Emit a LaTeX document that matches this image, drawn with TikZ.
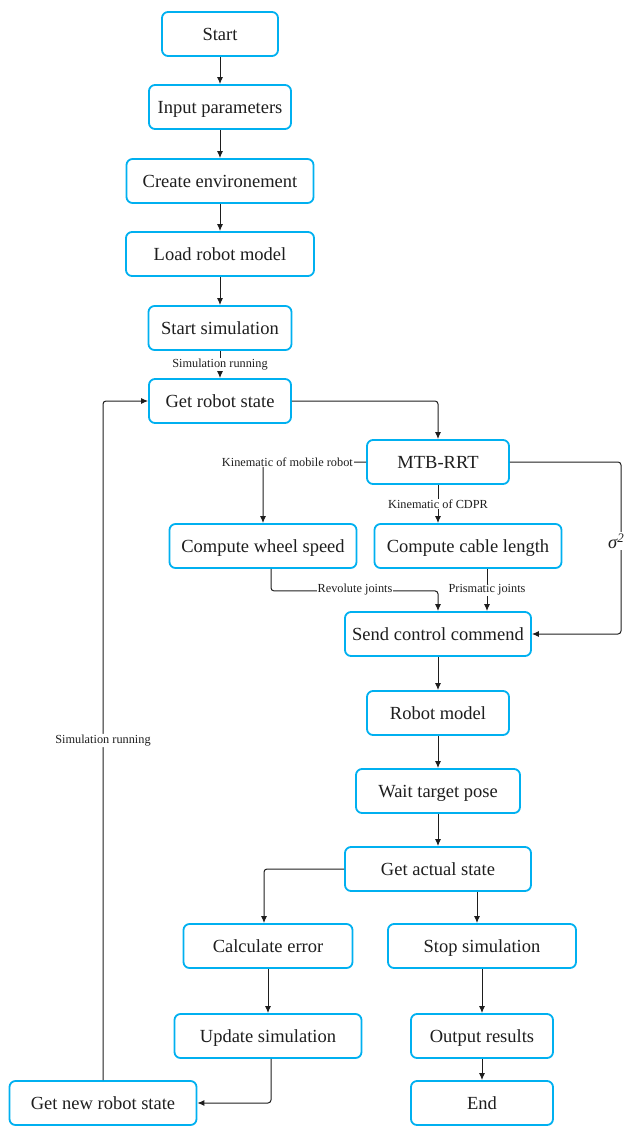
\documentclass[tikz,border=0pt]{standalone}
\usepackage{fontspec}
\setmainfont{Liberation Serif}
\usetikzlibrary{arrows.meta}
\definecolor{boxblue}{RGB}{0,176,240}
\definecolor{ink}{RGB}{30,30,30}
\begin{document}
\begin{tikzpicture}[x=1pt,y=-1pt,
  box/.style={draw=boxblue, line width=1.8pt, rounded corners=6pt, fill=white,
    minimum height=44pt, inner sep=0pt, text=ink, text height=13pt, text depth=0pt,
    font=\fontsize{18.5}{22}\selectfont},
  arr/.style={draw=ink, line width=1pt, -{Latex[length=7pt,width=6pt]}},
  lbl/.style={fill=white, inner sep=1pt, text=ink, font=\fontsize{12.3}{14}\selectfont}]
\clip (0,0) rectangle (624,1126);

% main column
\node[box, minimum width=116pt] (start)    at (220,34)  {Start};
\node[box, minimum width=142pt] (input)    at (220,107) {Input parameters};
\node[box, minimum width=187pt] (env)      at (220,181) {Create environement};
\node[box, minimum width=188pt] (load)     at (220,254) {Load robot model};
\node[box, minimum width=143pt] (startsim) at (220,328) {Start simulation};
\node[box, minimum width=142pt] (getstate) at (220,401) {Get robot state};

% planner and actuation
\node[box, minimum width=142pt] (mtb)   at (438,462) {MTB-RRT};
\node[box, minimum width=187pt] (wheel) at (263,546) {Compute wheel speed};
\node[box, minimum width=187pt] (cable) at (468,546) {Compute cable length};
\node[box, minimum width=186pt] (send)  at (438,634) {Send control commend};
\node[box, minimum width=142pt] (model) at (438,713) {Robot model};
\node[box, minimum width=164pt] (wait)  at (438,791) {Wait target pose};
\node[box, minimum width=186pt] (actual) at (438,869) {Get actual state};

% branches
\node[box, minimum width=169pt] (calcerr) at (268,946)  {Calculate error};
\node[box, minimum width=188pt] (stopsim) at (482,946)  {Stop simulation};
\node[box, minimum width=187pt] (update)  at (268,1036) {Update simulation};
\node[box, minimum width=142pt] (output)  at (482,1036) {Output results};
\node[box, minimum width=187pt] (newstate) at (103,1103) {Get new robot state};
\node[box, minimum width=142pt] (finish)  at (482,1103) {End};

% straight links of the main column
\draw[arr] (start) -- (input);
\draw[arr] (input) -- (env);
\draw[arr] (env) -- (load);
\draw[arr] (load) -- (startsim);
\draw[arr] (startsim) -- node[lbl] {Simulation running} (getstate);

\draw[arr, rounded corners=3pt] (getstate.east) -| (mtb.north);

% planner outputs
\draw[arr, rounded corners=3pt] (mtb.west) -| (wheel.north);
\node[lbl, anchor=east] (kinmob) at (354,462) {Kinematic of mobile robot};
\draw[arr] (mtb.south) -- node[lbl] {Kinematic of CDPR} (mtb.south |- cable.north);

\coordinate (revdown) at ([xshift=8pt]wheel.south);
\draw[arr, rounded corners=3pt] (revdown) -- ++(0,22) -| (send.north);
\node[lbl] (revlbl) at (355,590) {Revolute joints};
\coordinate (prisdown) at ([xshift=19pt]cable.south);
\draw[arr] (prisdown) -- node[lbl] {Prismatic joints} (prisdown |- send.north);

\coordinate (sigR1) at (621,462);
\coordinate (sigR2) at (621,634);
\draw[arr, rounded corners=3pt] (mtb.east) -- (sigR1) -- (sigR2) -- (send.east);
\node[fill=white, inner sep=1pt, anchor=west, text=ink, font=\fontsize{18.5}{22}\selectfont]
  (sig) at (607,541) {\itshape σ\textsuperscript{2}};

\draw[arr] (send) -- (model);
\draw[arr] (model) -- (wait);
\draw[arr] (wait) -- (actual);

% evaluation
\draw[arr, rounded corners=3pt] (actual.west) -| ([xshift=-4pt]calcerr.north);
\coordinate (stopdown) at ([xshift=39pt]actual.south);
\draw[arr] (stopdown) -- (stopdown |- stopsim.north);
\draw[arr] (calcerr) -- (update);
\draw[arr] (stopsim) -- (output);
\draw[arr] (output) -- (finish);
\draw[arr, rounded corners=3pt] ([xshift=3pt]update.south) |- (newstate.east);
\draw[arr, rounded corners=3pt] (newstate.north) |- node[lbl, pos=0.25] {Simulation running} (getstate.west);
\end{tikzpicture}
\end{document}
